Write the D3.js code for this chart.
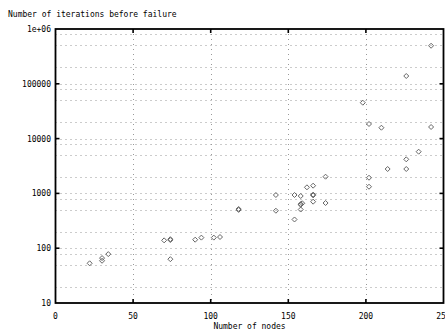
<!DOCTYPE html>
<html>
<head>
<meta charset="utf-8">
<script src="https://cdnjs.cloudflare.com/ajax/libs/d3/7.8.5/d3.min.js"></script>
<style>
  body { margin: 0; background: #fff; }
  text { font-family: "DejaVu Sans Mono", "Liberation Mono", monospace; font-size: 8px; fill: #000; }
</style>
</head>
<body>
<div id="chart"></div>
<script>
// nodes vs iterations before failure
var nodes = [22, 30, 30, 34, 70, 74, 74, 74, 90, 94, 102, 106, 118, 118,
             142, 142, 154, 154, 158, 158, 158, 159, 158, 162, 166, 166, 166, 166,
             174, 174, 198, 202, 202, 202, 210, 214, 226, 226, 226, 234, 242, 242];
var iterations = [53, 59, 66, 78, 139, 141, 146, 63, 143, 156, 156, 160, 519, 500,
                  935, 483, 935, 334, 897, 640, 620, 660, 508, 1291, 1383, 920, 950, 706,
                  2018, 668, 45200, 18470, 1932, 1324, 15800, 2786, 138700, 4188, 2786, 5770, 495000, 16290];

var xTicks = [0, 50, 100, 150, 200, 250];
var yTicks = [10, 100, 1000, 10000, 100000, 1000000];
var yTickLabels = ["10", "100", "1000", "10000", "100000", "1e+06"];
var yMinor = [2, 5, 8];

var W = 445, H = 333;
var margin = {top: 29, right: 1.5, bottom: 30, left: 55.5};

var x = d3.scaleLinear().domain([0, 250]).range([margin.left, W - margin.right]);
var y = d3.scaleLog().domain([10, 1e6]).range([H - margin.bottom, margin.top]);

var svg = d3.select("#chart").append("svg")
    .attr("width", W)
    .attr("height", H);

// grid lines: decades plus 2,5,8 in each decade
var gridY = [];
yTicks.forEach(function(t) {
  gridY.push(t);
  if (t < 1e6) yMinor.forEach(function(m) { gridY.push(t * m); });
});

svg.append("g").selectAll("line")
  .data(gridY.filter(function(v) { return v > 10 && v < 1e6; }))
  .enter().append("line")
    .attr("x1", x(0)).attr("x2", x(250))
    .attr("y1", function(d) { return Math.round(y(d)) + 0.5; })
    .attr("y2", function(d) { return Math.round(y(d)) + 0.5; })
    .attr("stroke", "#999")
    .attr("stroke-dasharray", "1,4");

svg.append("g").selectAll("line")
  .data(xTicks.slice(1, -1))
  .enter().append("line")
    .attr("x1", function(d) { return Math.round(x(d)) + 0.5; })
    .attr("x2", function(d) { return Math.round(x(d)) + 0.5; })
    .attr("y1", y(1e6)).attr("y2", y(10))
    .attr("stroke", "#999")
    .attr("stroke-dasharray", "1,4");

// data points (diamonds)
var pts = nodes.map(function(n, i) { return {n: n, it: iterations[i]}; });
svg.append("g").selectAll("path")
  .data(pts)
  .enter().append("path")
    .attr("transform", function(d) { return "translate(" + x(d.n) + "," + y(d.it) + ")"; })
    .attr("d", "M0,-2.5L2.5,0L0,2.5L-2.5,0Z")
    .attr("fill", "none")
    .attr("stroke", "#666")
    .attr("stroke-width", 1);

// frame
svg.append("rect")
  .attr("x", x(0)).attr("y", y(1e6))
  .attr("width", x(250) - x(0))
  .attr("height", y(10) - y(1e6))
  .attr("fill", "none")
  .attr("stroke", "#000")
  .attr("stroke-width", 1.8);

// ticks, mirrored inside on both sides
var ticks = svg.append("g").attr("stroke", "#000").attr("stroke-width", 1.6);
xTicks.slice(1, -1).forEach(function(t) {
  ticks.append("line").attr("x1", x(t)).attr("x2", x(t)).attr("y1", y(10)).attr("y2", y(10) - 4);
  ticks.append("line").attr("x1", x(t)).attr("x2", x(t)).attr("y1", y(1e6)).attr("y2", y(1e6) + 4);
});
yTicks.slice(1, -1).forEach(function(t) {
  ticks.append("line").attr("x1", x(0)).attr("x2", x(0) + 4).attr("y1", y(t)).attr("y2", y(t));
  ticks.append("line").attr("x1", x(250)).attr("x2", x(250) - 4).attr("y1", y(t)).attr("y2", y(t));
});

// tick labels
svg.append("g").selectAll("text")
  .data(xTicks)
  .enter().append("text")
    .attr("x", function(d) { return x(d); })
    .attr("y", 319)
    .attr("text-anchor", "middle")
    .text(function(d) { return d; });

svg.append("g").selectAll("text")
  .data(yTicks)
  .enter().append("text")
    .attr("x", 51)
    .attr("y", function(d) { return y(d) + 3; })
    .attr("text-anchor", "end")
    .text(function(d, i) { return yTickLabels[i]; });

// axis titles
svg.append("text")
  .attr("x", 8).attr("y", 17)
  .text("Number of iterations before failure");

svg.append("text")
  .attr("x", (x(0) + x(250)) / 2).attr("y", 329)
  .attr("text-anchor", "middle")
  .text("Number of nodes");
</script>
</body>
</html>
